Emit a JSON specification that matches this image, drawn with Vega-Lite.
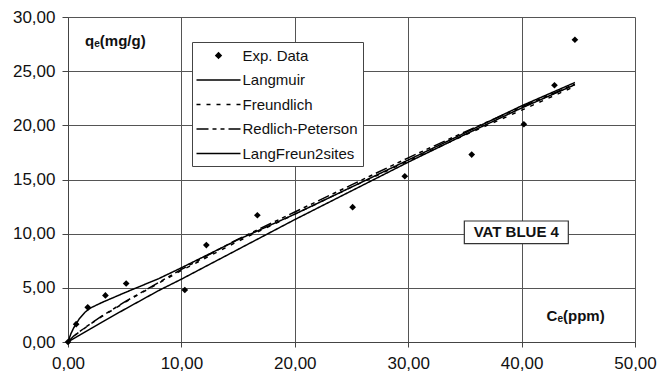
{
  "$schema": "https://vega.github.io/schema/vega-lite/v6.json",
  "width": 567,
  "height": 325,
  "autosize": {"type": "none"},
  "padding": {"left": 68, "top": 17, "right": 26, "bottom": 36},
  "background": "white",
  "config": {
    "view": {"stroke": null},
    "font": "Liberation Sans",
    "axis": {"labelFont": "Liberation Sans", "labelFontSize": 17, "labelColor": "#111", "labelFlush": false, "gridColor": "#555", "gridWidth": 1, "gridOpacity": 1, "domainColor": "#444", "tickColor": "#444", "title": null}
  },
  "datasets": {
    "pts": [
      {"C": 0, "q": 0}, {"C": 0.72, "q": 1.65}, {"C": 1.74, "q": 3.2}, {"C": 3.3, "q": 4.3},
      {"C": 5.13, "q": 5.4}, {"C": 10.3, "q": 4.8}, {"C": 12.2, "q": 8.95}, {"C": 16.7, "q": 11.7},
      {"C": 25.1, "q": 12.45}, {"C": 29.7, "q": 15.3}, {"C": 35.6, "q": 17.3}, {"C": 40.2, "q": 20.1},
      {"C": 42.9, "q": 23.7}, {"C": 44.7, "q": 27.9}
    ],
    "curves": [
      {"model": "Langmuir", "C": 0, "q": 0}, {"model": "Langmuir", "C": 1, "q": 0.62}, {"model": "Langmuir", "C": 2, "q": 1.23},
      {"model": "Langmuir", "C": 3, "q": 1.84}, {"model": "Langmuir", "C": 5, "q": 3.02}, {"model": "Langmuir", "C": 8, "q": 4.75},
      {"model": "Langmuir", "C": 10, "q": 5.8}, {"model": "Langmuir", "C": 15, "q": 8.55}, {"model": "Langmuir", "C": 20, "q": 11.3},
      {"model": "Langmuir", "C": 25, "q": 13.95}, {"model": "Langmuir", "C": 30, "q": 16.6}, {"model": "Langmuir", "C": 35, "q": 19.15},
      {"model": "Langmuir", "C": 40, "q": 21.6}, {"model": "Langmuir", "C": 44.7, "q": 23.75},
      {"model": "Freundlich", "C": 0, "q": 0}, {"model": "Freundlich", "C": 0.25, "q": 0.29}, {"model": "Freundlich", "C": 0.5, "q": 0.52},
      {"model": "Freundlich", "C": 1, "q": 0.93}, {"model": "Freundlich", "C": 2, "q": 1.67}, {"model": "Freundlich", "C": 3, "q": 2.36},
      {"model": "Freundlich", "C": 5, "q": 3.65}, {"model": "Freundlich", "C": 8, "q": 5.44}, {"model": "Freundlich", "C": 10, "q": 6.6},
      {"model": "Freundlich", "C": 15, "q": 9.3}, {"model": "Freundlich", "C": 20, "q": 11.8}, {"model": "Freundlich", "C": 25, "q": 14.3},
      {"model": "Freundlich", "C": 30, "q": 16.7}, {"model": "Freundlich", "C": 35, "q": 19.1}, {"model": "Freundlich", "C": 40, "q": 21.4},
      {"model": "Freundlich", "C": 44.7, "q": 23.6},
      {"model": "Redlich-Peterson", "C": 0, "q": 0}, {"model": "Redlich-Peterson", "C": 0.5, "q": 0.55}, {"model": "Redlich-Peterson", "C": 1, "q": 0.95},
      {"model": "Redlich-Peterson", "C": 2, "q": 1.7}, {"model": "Redlich-Peterson", "C": 3, "q": 2.4}, {"model": "Redlich-Peterson", "C": 5, "q": 3.7},
      {"model": "Redlich-Peterson", "C": 8, "q": 5.5}, {"model": "Redlich-Peterson", "C": 10, "q": 6.7}, {"model": "Redlich-Peterson", "C": 15, "q": 9.5},
      {"model": "Redlich-Peterson", "C": 20, "q": 12.0}, {"model": "Redlich-Peterson", "C": 25, "q": 14.5}, {"model": "Redlich-Peterson", "C": 30, "q": 17.0},
      {"model": "Redlich-Peterson", "C": 35, "q": 19.4}, {"model": "Redlich-Peterson", "C": 40, "q": 21.7}, {"model": "Redlich-Peterson", "C": 44.7, "q": 23.8},
      {"model": "LangFreun2sites", "C": 0, "q": 0}, {"model": "LangFreun2sites", "C": 0.25, "q": 0.75}, {"model": "LangFreun2sites", "C": 0.5, "q": 1.3},
      {"model": "LangFreun2sites", "C": 1, "q": 2.15}, {"model": "LangFreun2sites", "C": 1.5, "q": 2.75}, {"model": "LangFreun2sites", "C": 2, "q": 3.15},
      {"model": "LangFreun2sites", "C": 3, "q": 3.65}, {"model": "LangFreun2sites", "C": 5, "q": 4.55}, {"model": "LangFreun2sites", "C": 8, "q": 5.85},
      {"model": "LangFreun2sites", "C": 10, "q": 6.85}, {"model": "LangFreun2sites", "C": 15, "q": 9.45}, {"model": "LangFreun2sites", "C": 20, "q": 11.8},
      {"model": "LangFreun2sites", "C": 25, "q": 14.3}, {"model": "LangFreun2sites", "C": 30, "q": 16.8}, {"model": "LangFreun2sites", "C": 35, "q": 19.3},
      {"model": "LangFreun2sites", "C": 40, "q": 21.8}, {"model": "LangFreun2sites", "C": 44.7, "q": 23.95}
    ],
    "notes": [
      {"text": "qₑ(mg/g)", "x": 1.5, "y": 27.3},
      {"text": "Cₑ(ppm)", "x": 42.2, "y": 1.94}
    ],
    "box": [
      {"text": "VAT BLUE 4", "x": 34.95, "x2": 44.12, "y": 9.08, "y2": 11.17, "cx": 39.53, "cy": 10.13}
    ]
  },
  "encoding": {
    "x": {"type": "quantitative", "scale": {"domain": [0, 50], "nice": false},
      "axis": {"values": [0, 10, 20, 30, 40, 50], "labelExpr": "replace(format(datum.value, '.2f'), '.', ',')", "tickSize": 5, "labelPadding": 8, "grid": true}},
    "y": {"type": "quantitative", "scale": {"domain": [0, 30], "nice": false},
      "axis": {"values": [0, 5, 10, 15, 20, 25, 30], "labelExpr": "replace(format(datum.value, '.2f'), '.', ',')", "tickSize": 6, "labelPadding": 7, "grid": true}}
  },
  "layer": [
    {
      "data": {"name": "curves"},
      "mark": {"type": "line", "color": "black", "strokeWidth": 1.5},
      "encoding": {
        "x": {"field": "C", "type": "quantitative"},
        "y": {"field": "q", "type": "quantitative"},
        "detail": {"field": "model"},
        "strokeDash": {
          "field": "model", "type": "nominal",
          "scale": {"domain": ["Exp. Data", "Langmuir", "Freundlich", "Redlich-Peterson", "LangFreun2sites"],
                    "range": [[1, 0], [1, 0], [4, 6], [12, 4, 4, 4, 4, 4], [1, 0]]},
          "legend": {
            "title": null, "orient": "none", "legendX": 124, "legendY": 25,
            "padding": 4.5, "rowPadding": 7.5, "labelFontSize": 15, "labelFont": "Liberation Sans", "labelColor": "#111",
            "labelOffset": 28, "symbolType": "stroke", "symbolSize": 256, "symbolStrokeWidth": 1.5, "symbolStrokeColor": "black",
            "strokeColor": "#444", "fillColor": "white",
            "labelExpr": "datum.label + '   '",
            "encode": {"symbols": {"update": {
              "shape": {"signal": "datum.value === 'Exp. Data' ? 'M1.625,-0.33L1.955,0L1.625,0.33L1.295,0Z' : 'M-1.125,0H4.375'"},
              "fill": {"signal": "datum.value === 'Exp. Data' ? 'black' : 'transparent'"},
              "stroke": {"value": "black"}
            }}}
          }
        }
      }
    },
    {
      "data": {"name": "pts"},
      "mark": {"type": "point", "shape": "diamond", "filled": true, "color": "black", "size": 45, "opacity": 1},
      "encoding": {
        "x": {"field": "C", "type": "quantitative"},
        "y": {"field": "q", "type": "quantitative"}
      }
    },
    {
      "data": {"name": "notes"},
      "mark": {"type": "text", "align": "left", "baseline": "alphabetic", "fontSize": 15, "fontWeight": "bold", "color": "#111"},
      "encoding": {
        "x": {"field": "x", "type": "quantitative"},
        "y": {"field": "y", "type": "quantitative"},
        "text": {"field": "text"}
      }
    },
    {
      "data": {"name": "box"},
      "mark": {"type": "rect", "fill": "white", "stroke": "#333", "strokeWidth": 1.2},
      "encoding": {
        "x": {"field": "x", "type": "quantitative"},
        "x2": {"field": "x2"},
        "y": {"field": "y", "type": "quantitative"},
        "y2": {"field": "y2"}
      }
    },
    {
      "data": {"name": "box"},
      "mark": {"type": "text", "align": "center", "baseline": "middle", "fontSize": 15, "fontWeight": "bold", "color": "#111"},
      "encoding": {
        "x": {"field": "cx", "type": "quantitative"},
        "y": {"field": "cy", "type": "quantitative"},
        "text": {"field": "text"}
      }
    }
  ]
}
